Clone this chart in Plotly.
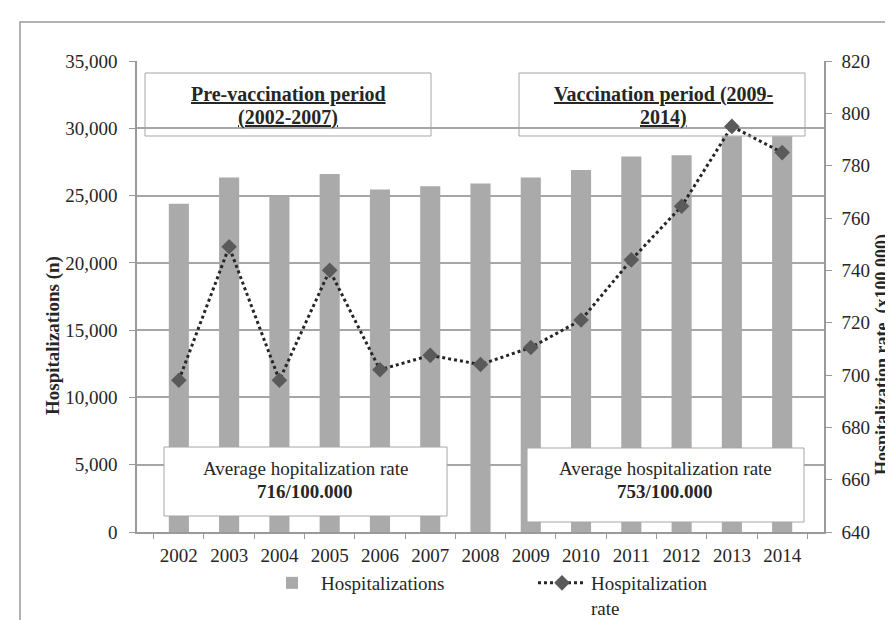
import plotly.graph_objects as go

# ---------------- data ----------------
years = ["2002", "2003", "2004", "2005", "2006", "2007", "2008",
         "2009", "2010", "2011", "2012", "2013", "2014"]
hospitalizations = [24400, 26350, 24950, 26600, 25450, 25700, 25900,
                    26350, 26900, 27900, 28000, 29400, 29400]
hosp_rate = [698, 749, 698, 740, 702, 707.5, 704,
             710.5, 721, 744, 764.5, 795, 785]
left_ticks = [0, 5000, 10000, 15000, 20000, 25000, 30000, 35000]
right_ticks = [640, 660, 680, 700, 720, 740, 760, 780, 800, 820]

# ---------------- layout helpers ----------------
W, H = 893, 620
L, R, T, B = 129, 77, 53, 96
PW, PH = W - L - R, H - T - B


def px(x):
    return (x - L) / PW


def py(y):
    return (H - B - y) / PH


FONT = "Liberation Serif"
TXT = "#262626"
GRID = "#a6a6a6"
BOX = "#a6a6a6"
AX = "#9a9a9a"

fig = go.Figure()
fig.add_trace(go.Bar(
    x=years, y=hospitalizations, name="Hospitalizations",
    marker=dict(color="#aaaaaa", line=dict(width=0)), yaxis="y",
))
fig.add_trace(go.Scatter(
    x=years, y=hosp_rate, name="Hospitalization<br>rate",
    mode="lines+markers", yaxis="y2",
    line=dict(color="#262626", width=3, dash="dot"),
    marker=dict(symbol="diamond", size=12, color="#5a5a5a"),
))

shapes = [
    # outer frame
    dict(type="rect", xref="paper", yref="paper", x0=px(12), x1=px(905),
         y0=py(619), y1=py(14), line=dict(color=AX, width=1.5),
         fillcolor="rgba(0,0,0,0)", layer="below"),
    # top boxes (no fill)
    dict(type="rect", xref="paper", yref="paper", x0=px(137), x1=px(423),
         y0=py(128), y1=py(65), line=dict(color=BOX, width=1),
         fillcolor="rgba(0,0,0,0)", layer="above"),
    dict(type="rect", xref="paper", yref="paper", x0=px(511), x1=px(797),
         y0=py(128), y1=py(65), line=dict(color=BOX, width=1),
         fillcolor="rgba(0,0,0,0)", layer="above"),
    # bottom boxes (white fill)
    dict(type="rect", xref="paper", yref="paper", x0=px(156), x1=px(439),
         y0=py(508), y1=py(439), line=dict(color=BOX, width=1),
         fillcolor="white", layer="above"),
    dict(type="rect", xref="paper", yref="paper", x0=px(519), x1=px(796),
         y0=py(514), y1=py(440), line=dict(color=BOX, width=1),
         fillcolor="white", layer="above"),
]


def ann(text, x, y, size=19, angle=0):
    return dict(text=text, xref="paper", yref="paper", x=px(x), y=py(y),
                xanchor="center", yanchor="middle", showarrow=False,
                textangle=angle, font=dict(family=FONT, size=size, color=TXT))


annotations = [
    ann("<b><u>Pre-vaccination period</u></b>", 280, 86, 20),
    ann("<b><u>(2002-2007)</u></b>", 280, 110, 20),
    ann("<b><u>Vaccination period (2009-</u></b>", 655, 86, 20),
    ann("<b><u>2014)</u></b>", 655, 110, 20),
    ann("Average hopitalization rate", 297, 460, 19),
    ann("<b>716/100.000</b>", 297, 483, 19),
    ann("Average hospitalization rate", 657, 460, 19),
    ann("<b>753/100.000</b>", 657, 483, 19),
    ann("<b>Hospitalizations (n)</b>", 45, 328, 19, -90),
    ann("<b>Hospitalization rate  (x100.000)</b>", 874, 346, 18, -90),
]

fig.update_layout(
    width=W, height=H,
    margin=dict(l=L, r=R, t=T, b=B, autoexpand=False),
    paper_bgcolor="white", plot_bgcolor="white",
    font=dict(family=FONT, size=19, color=TXT),
    bargap=0.6,
    showlegend=True,
    legend=dict(orientation="h", x=px(255), y=py(556), xanchor="left",
                yanchor="top", valign="top", itemwidth=48,
                font=dict(family=FONT, size=19, color=TXT),
                entrywidth=207, entrywidthmode="pixels",
                bgcolor="rgba(0,0,0,0)"),
    xaxis=dict(type="category", categoryorder="array", categoryarray=years,
               tickson="boundaries", ticks="outside", ticklen=5,
               tickcolor=AX, showline=True, linecolor=AX,
               linewidth=1.5, showgrid=False, zeroline=False,
               ticklabelstandoff=5,
               tickfont=dict(family=FONT, size=19, color=TXT)),
    yaxis=dict(range=[0, 35000], tickvals=left_ticks, tickformat=",",
               ticks="outside", ticklen=6, tickcolor=AX,
               showline=True, linecolor=AX, linewidth=1.5,
               showgrid=True, gridcolor=GRID, gridwidth=1.5, zeroline=False,
               ticklabelstandoff=8,
               tickfont=dict(family=FONT, size=19, color=TXT)),
    yaxis2=dict(range=[640, 820], tickvals=right_ticks, overlaying="y",
                side="right", ticks="outside", ticklen=6,
                tickcolor=AX, showline=True, linecolor=AX,
                linewidth=1.5, showgrid=False, zeroline=False,
                ticklabelstandoff=6,
                tickfont=dict(family=FONT, size=19, color=TXT)),
    shapes=shapes,
    annotations=annotations,
)

fig.write_html("out.html")
